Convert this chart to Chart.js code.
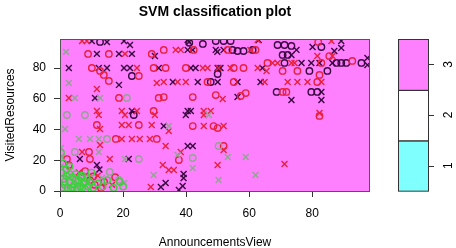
<!DOCTYPE html>
<html>
<head>
<meta charset="utf-8">
<script src="https://cdn.jsdelivr.net/npm/chart.js@4/dist/chart.umd.min.js"></script>
<style>
  body { margin: 0; background: #fff; }
</style>
</head>
<body>
<canvas id="svmChart" width="456" height="248"></canvas>
<script>
// axis ticks and legend classes
const xTicks = [0, 20, 40, 60, 80];
const yTicks = [0, 20, 40, 60, 80];
const classLabels = ['1', '2', '3'];
const classColors = ['#80FFFF', '#FFFFFF', '#FF80FF'];

// points: [AnnouncementsView, VisitedResources]
const blackX = [
  [10.1,97.7],[14.9,97.1],[20.3,97.7],[22.2,95.1],[11.7,89.3],[18.7,89.3],[22.8,89.3],[30.1,87.9],
  [2.8,80.1],[12.3,80.1],[14.9,80.1],[20.3,80.1],[22.2,80.1],[31.3,80.1],[18.7,69.1],[11.1,60.6],
  [22.8,52.1],[6.3,20.8],[21.8,20.8],[11.7,16.9],[40.5,98.4],[40.9,97.1],[40.5,91.9],[42.1,91.9],
  [49.4,91.9],[49.9,90.6],[51.9,91.9],[63.0,98.4],[41.5,80.1],[43.0,80.1],[50.0,80.1],[50.9,80.1],
  [64.2,80.1],[35.8,71.0],[43.7,71.0],[50.0,71.0],[56.3,71.0],[63.6,71.0],[56.3,61.2],[40.5,52.1],
  [41.5,52.1],[39.9,49.5],[32.9,42.3],[40.5,29.3],[42.1,29.3],[39.2,11.1],[39.2,8.5],[38.9,3.3],
  [37.7,0.7],[33.5,5.2],[32.0,2.6],[89.2,97.7],[75.0,91.9],[80.1,93.8],[87.0,91.2],[89.2,93.2],
  [97.5,86.6],[73.4,88.6],[76.6,83.4],[79.7,83.4],[82.3,83.4],[86.4,83.4],[97.5,82.1],[82.9,64.5],
  [73.4,59.3],[82.9,59.3],[12.5,14.0]
];
const blackO = [
  [12.7,97.1],[45.3,95.8],[49.4,97.7],[51.9,97.7],[54.1,97.7],[54.7,91.9],[56.3,91.2],[58.2,91.2],
  [61.1,91.9],[22.8,74.9],[47.8,71.0],[50.0,76.2],[69.0,95.1],[71.2,95.1],[73.4,94.5],[70.6,88.6],
  [72.2,88.6],[71.2,83.4],[87.7,83.4],[89.2,83.4],[90.8,83.4],[95.6,83.4],[82.9,93.8],[79.1,78.2],
  [84.8,78.2],[68.7,64.5],[79.7,64.5],[81.6,64.5],[23.4,49.5],[41.0,96.5]
];
const redX = [
  [7.0,97.7],[8.5,97.7],[20.6,89.3],[24.4,80.1],[30.7,70.4],[11.7,66.4],[2.8,60.6],[11.7,52.1],
  [19.6,52.1],[24.4,52.1],[12.3,49.5],[20.6,49.5],[30.1,49.5],[19.6,43.0],[21.8,43.0],[29.1,43.0],
  [12.7,40.4],[19.6,33.9],[22.8,33.9],[25.3,33.9],[28.5,33.9],[12.7,30.0],[7.0,25.4],[15.8,20.8],
  [36.7,91.9],[38.3,91.9],[60.4,91.9],[45.3,80.1],[46.8,80.1],[50.3,80.1],[54.1,80.1],[62.7,80.1],
  [32.9,71.0],[37.3,71.0],[39.9,71.0],[51.6,59.9],[45.6,52.1],[47.8,52.1],[62.7,98.4],[45.6,49.5],
  [45.6,42.3],[51.9,42.3],[34.5,39.1],[33.5,29.3],[51.9,26.7],[38.3,25.4],[32.6,16.9],[34.5,13.7],
  [36.1,13.7],[50.0,16.9],[28.8,2.6],[86.1,97.7],[81.6,87.9],[86.4,87.9],[67.4,83.4],[69.0,83.4],
  [73.4,83.4],[74.4,83.4],[65.5,78.2],[64.9,71.0],[72.2,71.0],[75.3,71.0],[78.5,71.0],[82.9,71.0],
  [82.3,50.8],[71.2,17.6],[6.0,12.0],[12.0,10.0],[16.5,4.0]
];
const redO = [
  [8.9,89.3],[15.5,89.3],[29.1,89.3],[10.1,80.1],[12.7,78.2],[13.9,75.6],[25.0,74.9],[29.7,80.1],
  [15.5,71.7],[18.7,60.6],[31.3,60.6],[29.7,52.1],[25.0,43.0],[11.7,43.0],[17.7,33.9],[30.7,33.9],
  [9.2,25.4],[2.2,20.8],[9.5,20.8],[2.8,16.9],[32.9,91.9],[42.4,91.9],[53.2,91.9],[62.0,91.9],
  [33.5,80.1],[39.9,80.1],[55.1,80.1],[58.2,80.1],[46.8,71.0],[55.1,71.0],[32.9,61.2],[42.1,61.2],
  [49.4,62.5],[57.3,61.9],[58.9,63.8],[42.1,42.3],[48.7,42.3],[50.0,41.0],[51.9,29.3],[37.7,20.2],
  [92.7,84.7],[65.8,83.4],[85.4,87.9],[82.9,83.4],[70.6,78.2],[75.3,78.2],[82.3,75.6],[81.6,71.0],
  [70.6,64.5],[71.8,64.5],[82.3,48.9],[81.9,97.1],[9.5,7.0],[11.0,4.0],[14.0,6.0],[8.0,13.0],
  [10.5,9.5],[13.0,2.0],[17.5,9.0]
];
const greenX = [
  [1.9,90.6],[2.8,70.4],[4.7,60.6],[12.7,60.6],[1.6,40.4],[6.0,33.9],[9.5,33.9],[12.3,33.9],
  [12.3,25.4],[20.6,20.8],[34.5,42.3],[47.2,49.5],[37.3,23.5],[53.2,22.1],[58.9,22.1],[62.0,10.4],
  [50.3,7.2],[42.1,15.0],[29.7,10.4],[13.3,8.5],[20.3,5.2],[0.3,28.0],[0.5,22.0],[0.3,16.0]
];
const greenO = [
  [2.2,49.5],[7.9,49.5],[14.9,33.9],[4.7,25.4],[25.0,20.8],[21.2,60.6],[50.3,29.3],[42.1,21.5],
  [15.8,12.4],[18.7,7.2]
];
const greenCluster = [
  [0.5,12],[1,8],[1.5,4],[2,10],[2.5,2],[3,6],[3.5,1],[4,9],[4.5,4],[5,11],[5.5,2],[6,7],[6.5,3],
  [7,10],[7.5,5],[8,1],[8.5,8],[9,3],[9.5,6],[10,12],[10.5,2],[0.5,2],[2,14],[1,18],[0.3,25],[3,16],
  [1.5,6],[3,11],[4,2.5],[5,7],[6.5,9],[7,2],[8,6],[12,5],[13.5,3],[15,7],[17,2],[19,6],[20,3]
];

const toPts = arr => arr.map(p => ({ x: p[0], y: p[1] }));

function series(data, color, style, r) {
  return {
    data: toPts(data),
    pointStyle: style,
    pointRadius: r,
    pointHoverRadius: r,
    pointBorderColor: color,
    pointBackgroundColor: 'rgba(0,0,0,0)',
    pointBorderWidth: 1.4
  };
}

// magenta region, box, title, axis titles and class key
const svmDecor = {
  id: 'svmDecor',
  beforeDatasetsDraw(chart) {
    const { ctx, chartArea: a } = chart;
    ctx.save();
    ctx.fillStyle = classColors[2];
    ctx.fillRect(a.left, a.top, a.right - a.left, a.bottom - a.top);
    ctx.restore();
  },
  afterDraw(chart) {
    const { ctx, chartArea: a } = chart;
    ctx.save();
    ctx.strokeStyle = '#555';
    ctx.lineWidth = 1;
    ctx.strokeRect(a.left + 0.5, a.top + 0.5, a.right - a.left, a.bottom - a.top);

    ctx.fillStyle = '#000';
    ctx.textAlign = 'center';
    ctx.textBaseline = 'middle';
    ctx.font = 'bold 14px "Liberation Sans", Arial, sans-serif';
    ctx.fillText('SVM classification plot', 215, 12);
    ctx.font = '12px "Liberation Sans", Arial, sans-serif';
    ctx.fillText('AnnouncementsView', 215, 243);
    ctx.save();
    ctx.translate(11, 115);
    ctx.rotate(-Math.PI / 2);
    ctx.fillText('VisitedResources', 0, 0);
    ctx.restore();

    // class key
    const kx = 398, kw = 30;
    const segH = (a.bottom - a.top) / classLabels.length;
    for (let i = 0; i < classLabels.length; i++) {
      const y0 = a.bottom - (i + 1) * segH;
      ctx.fillStyle = classColors[i];
      ctx.fillRect(kx, y0, kw, segH);
      ctx.strokeStyle = '#333';
      ctx.strokeRect(kx + 0.5, Math.round(y0) + 0.5, kw, segH);
      const yc = y0 + segH / 2;
      ctx.beginPath();
      ctx.moveTo(kx + kw, Math.round(yc) + 0.5);
      ctx.lineTo(kx + kw + 6, Math.round(yc) + 0.5);
      ctx.stroke();
      ctx.save();
      ctx.translate(449, yc);
      ctx.rotate(-Math.PI / 2);
      ctx.fillStyle = '#000';
      ctx.fillText(classLabels[i], 0, 0);
      ctx.restore();
    }
    ctx.restore();
  }
};

const tickFont = { family: '"Liberation Sans", Arial, sans-serif', size: 12 };

const svmChart = new Chart(document.getElementById('svmChart'), {
  type: 'scatter',
  data: {
    datasets: [
      series(greenCluster, '#3fcf3f', 'circle', 3.2),
      series(greenO, '#8fa68f', 'circle', 3.2),
      series(greenX, '#8fa68f', 'crossRot', 4.2),
      series(redO, '#e8203c', 'circle', 3.2),
      series(redX, '#e8203c', 'crossRot', 4.2),
      series(blackO, '#3a0840', 'circle', 3.2),
      series(blackX, '#3a0840', 'crossRot', 4.2)
    ]
  },
  options: {
    responsive: false,
    animation: false,
    devicePixelRatio: 1,
    layout: { padding: { top: 39, right: 87, left: 0, bottom: 0 } },
    plugins: { legend: { display: false }, tooltip: { enabled: false } },
    scales: {
      x: {
        min: 0,
        max: 98,
        afterFit: s => { s.height = 57; },
        afterBuildTicks: s => { s.ticks = xTicks.map(v => ({ value: v })); },
        grid: { drawOnChartArea: false, tickLength: 6, color: '#333' },
        border: { display: false },
        ticks: { font: tickFont, color: '#000', padding: 9, maxRotation: 0 }
      },
      y: {
        min: 0,
        max: 99,
        afterFit: s => { s.width = 60; },
        afterBuildTicks: s => { s.ticks = yTicks.map(v => ({ value: v })); },
        grid: { drawOnChartArea: false, tickLength: 6, color: '#333' },
        border: { display: false },
        ticks: { font: tickFont, color: '#000', padding: 8 }
      }
    }
  },
  plugins: [svmDecor]
});
</script>
</body>
</html>
